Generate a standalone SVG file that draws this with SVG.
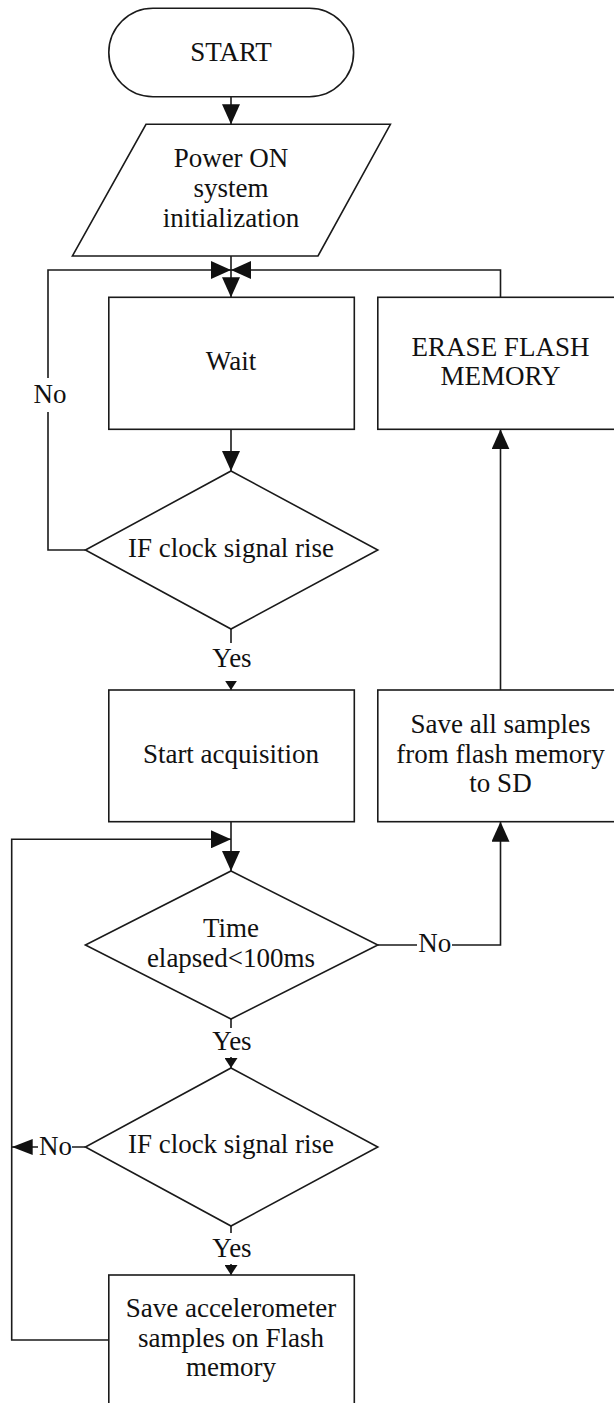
<svg xmlns="http://www.w3.org/2000/svg" width="614" height="1403" viewBox="0 0 614 1403">
  <style>
    .shape { fill: #ffffff; stroke: #1a1a1a; stroke-width: 1.6; }
    .conn { fill: none; stroke: #1a1a1a; stroke-width: 1.6; }
    .t { font-family: "Liberation Serif", "Times New Roman", serif; font-size: 27px; fill: #111111; text-anchor: middle; }
    .bg { fill: #ffffff; stroke: none; }
  </style>
  <defs>
    <marker id="big" markerUnits="userSpaceOnUse" markerWidth="20" markerHeight="18" refX="20" refY="9" orient="auto">
      <path d="M0,0 L20,9 L0,18 z" fill="#111111"/>
    </marker>
    <marker id="small" markerUnits="userSpaceOnUse" markerWidth="10" markerHeight="13" refX="10" refY="6.5" orient="auto">
      <path d="M0,0 L10,6.5 L0,13 z" fill="#111111"/>
    </marker>
    <marker id="mid" markerUnits="userSpaceOnUse" markerWidth="21" markerHeight="16" refX="21" refY="8" orient="auto">
      <path d="M0,0 L21,8 L0,16 z" fill="#111111"/>
    </marker>
  </defs>
  <rect width="614" height="1403" fill="#ffffff"/>

  <g id="connectors">
    <!-- START to init -->
    <path class="conn" d="M231,96.7 L231,124.3" marker-end="url(#big)"/>
    <!-- init to Wait -->
    <path class="conn" d="M231,256 L231,297.3" marker-end="url(#big)"/>
    <!-- No loop from decision 1 -->
    <path class="conn" d="M85.4,550 L48,550 L48,270 L231,270" marker-end="url(#big)"/>
    <!-- ERASE back to Wait -->
    <path class="conn" d="M500.5,297.3 L500.5,270 L231,270" marker-end="url(#big)"/>
    <!-- Wait to decision 1 -->
    <path class="conn" d="M231,429.3 L231,471" marker-end="url(#big)"/>
    <!-- decision 1 yes to Start acquisition -->
    <path class="conn" d="M231,629 L231,690" marker-end="url(#small)"/>
    <!-- Start acquisition to decision 2 -->
    <path class="conn" d="M231,821.7 L231,871" marker-end="url(#big)"/>
    <!-- loop back to decision 2 -->
    <path class="conn" d="M108.8,1340 L11.7,1340 L11.7,839.3 L231,839.3" marker-end="url(#big)"/>
    <!-- decision 2 No to Save all samples -->
    <path class="conn" d="M377.8,945 L500.5,945 L500.5,821.7" marker-end="url(#big)"/>
    <!-- Save all samples to ERASE -->
    <path class="conn" d="M500.5,690 L500.5,429.3" marker-end="url(#big)"/>
    <!-- decision 2 yes to decision 3 -->
    <path class="conn" d="M231,1019 L231,1068" marker-end="url(#small)"/>
    <!-- decision 3 No -->
    <path class="conn" d="M85.4,1147 L11.7,1147" marker-end="url(#mid)"/>
    <!-- decision 3 yes to save -->
    <path class="conn" d="M231,1226 L231,1275" marker-end="url(#small)"/>

    <!-- labels -->
    <rect class="bg" x="31" y="378" width="38" height="34"/>
    <text class="t" x="50" y="403">No</text>
    <rect class="bg" x="211" y="643" width="42" height="38"/>
    <text class="t" x="232" y="667">Yes</text>
    <rect class="bg" x="417" y="930" width="35" height="28"/>
    <text class="t" x="434.7" y="952">No</text>
    <rect class="bg" x="211" y="1028" width="42" height="29"/>
    <text class="t" x="232" y="1050">Yes</text>
    <rect class="bg" x="38" y="1135" width="34" height="26"/>
    <text class="t" x="55.5" y="1155">No</text>
    <rect class="bg" x="211" y="1233" width="42" height="31"/>
    <text class="t" x="232" y="1257">Yes</text>
  </g>

  <g id="start">
    <rect class="shape" x="108.8" y="8.3" width="244.8" height="88.4" rx="44.2" ry="44.2"/>
    <text class="t" x="231" y="61">START</text>
  </g>

  <g id="init">
    <polygon class="shape" points="146,124.3 390.4,124.3 318,256 72.4,256"/>
    <text class="t" x="231" y="167">Power ON</text>
    <text class="t" x="231" y="197">system</text>
    <text class="t" x="231" y="227">initialization</text>
  </g>

  <g id="wait">
    <rect class="shape" x="108.8" y="297.3" width="245.5" height="132"/>
    <text class="t" x="231" y="370">Wait</text>
  </g>

  <g id="erase">
    <rect class="shape" x="377.8" y="297.3" width="250" height="132"/>
    <text class="t" x="500.5" y="356">ERASE FLASH</text>
    <text class="t" x="500.5" y="385">MEMORY</text>
  </g>

  <g id="decision1">
    <polygon class="shape" points="231,471 377.8,550 231,629 85.4,550"/>
    <text class="t" x="231" y="557">IF clock signal rise</text>
  </g>

  <g id="start-acq">
    <rect class="shape" x="108.8" y="690" width="245.5" height="131.7"/>
    <text class="t" x="231" y="763">Start acquisition</text>
  </g>

  <g id="save-sd">
    <rect class="shape" x="377.8" y="690" width="250" height="131.7"/>
    <text class="t" x="500.5" y="732.5">Save all samples</text>
    <text class="t" x="500.5" y="762.5">from flash memory</text>
    <text class="t" x="500.5" y="792">to SD</text>
  </g>

  <g id="decision2">
    <polygon class="shape" points="231,871 377.8,945 231,1019 85.4,945"/>
    <text class="t" x="231" y="937">Time</text>
    <text class="t" x="231" y="967">elapsed&lt;100ms</text>
  </g>

  <g id="decision3">
    <polygon class="shape" points="231,1068 377.8,1147 231,1226 85.4,1147"/>
    <text class="t" x="231" y="1153">IF clock signal rise</text>
  </g>

  <g id="save-flash">
    <rect class="shape" x="108.8" y="1275" width="245.5" height="140"/>
    <text class="t" x="231" y="1317">Save accelerometer</text>
    <text class="t" x="231" y="1347">samples on Flash</text>
    <text class="t" x="231" y="1376">memory</text>
  </g>
</svg>
